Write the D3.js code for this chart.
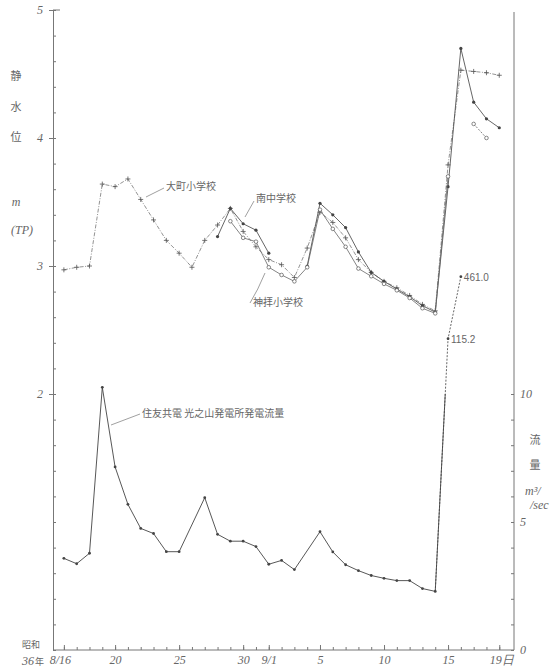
<!DOCTYPE html>
<html lang="ja">
<head>
<meta charset="utf-8">
<title>静水位と発電流量</title>
<script src="https://cdn.jsdelivr.net/npm/d3@7"></script>
<style>
  body { margin: 0; background: #fff; }
  .num { font-family: "Liberation Serif", serif; font-style: italic; fill: #666; font-size: 12px; }
  .jp { font-family: "Noto Sans CJK JP", sans-serif; fill: #666; }
  .axis path, .axis line { stroke: #777; }
  .axis text { font-family: "Liberation Serif", serif; font-style: italic; fill: #666; font-size: 12px; }
</style>
</head>
<body>
<script>
var w = 559, h = 669;

// day index counted from 8/16 (昭和36年) to 9/19
var days = d3.range(0, 35);

// 静水位 m (TP)
var omachi = [2.97, 2.99, 3.00, 3.64, 3.62, 3.68, 3.52, 3.36, 3.20, 3.10, 2.99, 3.20, 3.32, 3.45, 3.27, 3.15, 3.05,
              3.01, 2.91, 3.14, 3.42, 3.34, 3.22, 3.05, 2.95, 2.88, 2.83, 2.77, 2.70, 2.65, 3.79, 4.53, 4.52, 4.51, 4.49];
var minamiChu = [null, null, null, null, null, null, null, null, null, null, null, null, 3.23, 3.45, 3.33, 3.28, 3.10,
                 null, null, 3.00, 3.49, 3.40, 3.30, 3.11, 2.95, 2.88, 2.82, 2.76, 2.69, 2.64, 3.62, 4.70, 4.28, 4.15, 4.08];
var kanbai = [null, null, null, null, null, null, null, null, null, null, null, null, null, 3.35, 3.22, 3.19, 2.99,
              2.93, 2.88, 2.99, 3.44, 3.29, 3.15, 2.98, 2.92, 2.86, 2.81, 2.75, 2.67, 2.63, 3.70, null, 4.11, 4.00, null];

// 発電流量 m3/sec
var flow = [3.58, 3.37, 3.78, 10.26, 7.15, 5.69, 4.75, 4.55, 3.84, 3.84, null, 5.95, 4.52, 4.25, 4.25, 4.04, 3.35,
            3.50, 3.14, null, 4.62, 3.83, 3.33, 3.10, 2.91, 2.80, 2.71, 2.71, 2.40, 2.29, 115.2, 461.0, null, null, null];

var xTickDays = [0, 4, 9, 14, 16, 20, 25, 30, 34];
var xTickLabels = ["8/16", "20", "25", "30", "9/1", "5", "10", "15", "19日"];
var levelTicks = [2, 3, 4, 5];
var flowTicks = [0, 5, 10];

var x = d3.scaleLinear().domain([-0.85, 35.15]).range([53, 514]);
var yLevel = d3.scaleLinear().domain([0, 5]).range([650, 10]);
var yFlow = d3.scaleLinear().domain([0, 25]).range([650, 10]);
// off-scale flows drawn on a compressed log part above the axis
var yFlowHigh = d3.scaleLog().domain([100, 1000]).range([345, 242]);
function fy(v) { return v > 12 ? yFlowHigh(v) : yFlow(v); }

var svg = d3.select("body").append("svg")
    .attr("width", w).attr("height", h);

// left axis (水位)
svg.append("g").attr("class", "axis").attr("transform", "translate(53,0)")
    .call(d3.axisRight(yLevel).tickValues(d3.range(0, 5.01, 0.2)).tickSize(3).tickSizeOuter(0).tickFormat(""));
svg.append("g").attr("class", "axis").attr("transform", "translate(53,0)")
    .call(d3.axisLeft(yLevel).tickValues(levelTicks).tickSize(4).tickPadding(6).tickFormat(d3.format("d")))
    .call(g => g.select(".domain").remove());
svg.append("line").attr("x1", 53).attr("x2", 60).attr("y1", yLevel(5)).attr("y2", yLevel(5))
    .attr("stroke", "#777");

// right axis (流量)
svg.append("g").attr("class", "axis").attr("transform", "translate(514,0)")
    .call(d3.axisLeft(yFlow).tickValues(d3.range(0, 10.5, 1)).tickSize(3).tickFormat(""))
    .call(g => g.select(".domain").remove());
svg.append("line").attr("x1", 514).attr("x2", 514).attr("y1", 12).attr("y2", 650).attr("stroke", "#777");
svg.append("g").attr("class", "axis").attr("transform", "translate(514,0)")
    .call(d3.axisRight(yFlow).tickValues(flowTicks).tickSize(0).tickPadding(6).tickFormat(d3.format("d")))
    .call(g => g.select(".domain").remove());

// bottom axis (日付)
svg.append("g").attr("class", "axis").attr("transform", "translate(0,650)")
    .call(d3.axisTop(x).tickValues(days).tickSize(3).tickSizeOuter(0).tickFormat(""))
    .call(g => g.select(".domain").attr("d", "M53,0H514"));
svg.append("g").attr("class", "axis").attr("transform", "translate(0,650)")
    .call(d3.axisTop(x).tickValues(xTickDays).tickSize(5).tickFormat(""))
    .call(g => g.select(".domain").remove());
svg.append("g").attr("class", "axis").attr("transform", "translate(0,650)")
    .call(d3.axisBottom(x).tickValues(xTickDays).tickSize(0).tickPadding(5)
        .tickFormat((d, i) => xTickLabels[i]))
    .call(g => g.select(".domain").remove())
    .selectAll("text").attr("dx", (d, i) => i === 0 ? "-4" : (i === xTickDays.length - 1 ? "2" : "0"));

svg.append("text").attr("class", "jp").attr("x", 22).attr("y", 648).attr("font-size", 9).text("昭和");
svg.append("text").attr("class", "num").attr("x", 22).attr("y", 665).text("36");
svg.append("text").attr("class", "jp").attr("x", 35).attr("y", 665).attr("font-size", 9).text("年");

// axis titles
[["静", 80], ["水", 111], ["位", 141]].forEach(function (t) {
    svg.append("text").attr("class", "jp").attr("x", 16).attr("y", t[1]).attr("font-size", 11)
        .attr("text-anchor", "middle").text(t[0]);
});
svg.append("text").attr("class", "num").attr("x", 16).attr("y", 206).attr("text-anchor", "middle").text("m");
svg.append("text").attr("class", "num").attr("x", 22).attr("y", 234).attr("text-anchor", "middle").text("(TP)");
[["流", 444], ["量", 469]].forEach(function (t) {
    svg.append("text").attr("class", "jp").attr("x", 535).attr("y", t[1]).attr("font-size", 11)
        .attr("text-anchor", "middle").text(t[0]);
});
svg.append("text").attr("class", "num").attr("x", 525).attr("y", 495).text("m³/");
svg.append("text").attr("class", "num").attr("x", 530).attr("y", 509).text("/sec");

// water level series
function pts(arr) { return arr.map((v, i) => ({ d: days[i], v: v })); }
var line = d3.line().defined(p => p.v != null).x(p => x(p.d)).y(p => yLevel(p.v));

var omachiPts = pts(omachi).filter(p => p.v != null);
svg.append("path").datum(omachiPts).attr("d", line).attr("fill", "none")
    .attr("stroke", "#777").attr("stroke-width", 0.8).attr("stroke-dasharray", "4,1.5,1,1.5");
svg.selectAll(".plus").data(omachiPts).enter().append("path")
    .attr("transform", p => "translate(" + x(p.d) + "," + yLevel(p.v) + ")")
    .attr("d", "M-2.5,0H2.5M0,-2.5V2.5").attr("stroke", "#555").attr("stroke-width", 0.8);

var minamiPts = pts(minamiChu);
svg.append("path").datum(minamiPts).attr("d", line).attr("fill", "none")
    .attr("stroke", "#555").attr("stroke-width", 0.9);
svg.selectAll(".dotB").data(minamiPts.filter(p => p.v != null)).enter().append("circle")
    .attr("cx", p => x(p.d)).attr("cy", p => yLevel(p.v)).attr("r", 1.6).attr("fill", "#444");

var kanbaiPts = pts(kanbai);
var firstPart = kanbaiPts.map(p => p.d <= 30 ? p : { d: p.d, v: null });
var lastPart = kanbaiPts.map(p => p.d > 30 ? p : { d: p.d, v: null });
svg.append("path").datum(firstPart).attr("d", line).attr("fill", "none")
    .attr("stroke", "#666").attr("stroke-width", 0.8);
svg.append("path").datum(lastPart).attr("d", line).attr("fill", "none")
    .attr("stroke", "#666").attr("stroke-width", 0.8).attr("stroke-dasharray", "2,1.5");
svg.selectAll(".ring").data(kanbaiPts.filter(p => p.v != null)).enter().append("circle")
    .attr("cx", p => x(p.d)).attr("cy", p => yLevel(p.v)).attr("r", 1.8)
    .attr("fill", "#fff").attr("stroke", "#555").attr("stroke-width", 0.7);

// flow series
var flowPts = pts(flow).filter(p => p.v != null);
var lowPts = flowPts.filter(p => p.v <= 12);
var highPts = flowPts.filter(p => p.v > 12);
var fline = d3.line().x(p => x(p.d)).y(p => fy(p.v));
svg.append("path").datum(lowPts).attr("d", fline).attr("fill", "none")
    .attr("stroke", "#444").attr("stroke-width", 0.9);
var lastLow = lowPts[lowPts.length - 1];
var brk = [lastLow].concat(highPts);
svg.append("path").datum(brk).attr("d", fline).attr("fill", "none")
    .attr("stroke", "#555").attr("stroke-width", 0.9).attr("stroke-dasharray", "2,1.5");
// solid part of the rise up to the top of the scale
var x0 = x(lastLow.d), y0 = fy(lastLow.v), x1 = x(highPts[0].d), y1 = fy(highPts[0].v);
var t = (y0 - yFlow(10)) / (y0 - y1);
svg.append("line").attr("x1", x0).attr("y1", y0).attr("x2", x0 + t * (x1 - x0)).attr("y2", yFlow(10))
    .attr("stroke", "#444").attr("stroke-width", 0.9);
svg.selectAll(".dotF").data(flowPts).enter().append("circle")
    .attr("cx", p => x(p.d)).attr("cy", p => fy(p.v)).attr("r", 1.4).attr("fill", "#444");
svg.selectAll(".flab").data(highPts).enter().append("text")
    .attr("x", p => x(p.d) + 3).attr("y", p => fy(p.v) + 4)
    .attr("font-family", "Liberation Sans, sans-serif").attr("font-size", 10).attr("fill", "#666")
    .text(p => d3.format(".1f")(p.v));

// annotations
function leader(path) {
    svg.append("path").attr("d", path).attr("fill", "none").attr("stroke", "#777").attr("stroke-width", 0.7);
}
leader("M146,197L164,188");
svg.append("text").attr("class", "jp").attr("x", 166).attr("y", 190).attr("font-size", 10).text("大町小学校");
leader("M245,217L254,201");
svg.append("text").attr("class", "jp").attr("x", 256).attr("y", 202).attr("font-size", 10).text("南中学校");
leader("M265,273Q258,290 250,303");
svg.append("text").attr("class", "jp").attr("x", 253).attr("y", 306).attr("font-size", 10).text("神拝小学校");
leader("M111,425L140,414");
svg.append("text").attr("class", "jp").attr("x", 142).attr("y", 417).attr("font-size", 10)
    .text("住友共電 光之山発電所発電流量");
</script>
</body>
</html>
